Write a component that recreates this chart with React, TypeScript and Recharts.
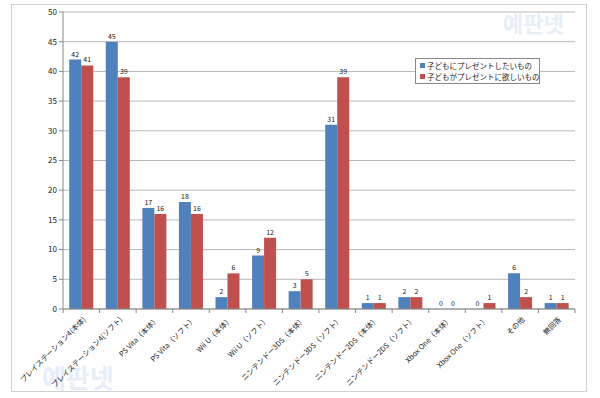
import React from 'react'
import { Bar, BarChart, CartesianGrid, LabelList, XAxis, YAxis } from 'recharts'

const categories = [
  'プレイステーション4(本体)',
  'プレイステーション4(ソフト)',
  'PS Vita（本体）',
  'PS Vita（ソフト）',
  'Wii U（本体）',
  'Wii U（ソフト）',
  'ニンテンドー3DS（本体）',
  'ニンテンドー3DS（ソフト）',
  'ニンテンドー2DS（本体）',
  'ニンテンドー2DS（ソフト）',
  'Xbox One（本体）',
  'Xbox One（ソフト）',
  'その他',
  '無回答',
]
const wantToGive = [42, 45, 17, 18, 2, 9, 3, 31, 1, 2, 0, 0, 6, 1]
const wantToGet = [41, 39, 16, 16, 6, 12, 5, 39, 1, 2, 0, 1, 2, 1]
const yTicks = [0, 5, 10, 15, 20, 25, 30, 35, 40, 45, 50]
const seriesNames = ['子どもにプレゼントしたいもの', '子どもがプレゼントに欲しいもの']

const data = categories.map((name, i) => ({ name, give: wantToGive[i], get: wantToGet[i] }))

const font = '"Noto Sans CJK JP", "Noto Sans", sans-serif'

const XTick = (props: any) => {
  const { x, y, payload, index } = props
  const half = payload.offset || 18.3
  return (
    <g>
      <line x1={x - half} x2={x - half} y1={y - 8} y2={y - 4} stroke='#888' />
      {index === categories.length - 1 && <line x1={x + half} x2={x + half} y1={y - 8} y2={y - 4} stroke='#888' />}
      <text x={x + 5} y={y + 3} transform={`rotate(-45, ${x + 5}, ${y + 3})`} textAnchor='end' fontSize={7.3} fill='#222' fontFamily={font}>
        {payload.value}
      </text>
    </g>
  )
}

const ValueLabel = (props: any) => {
  const { x, y, width, value } = props
  return (
    <text x={Number(x) + Number(width) / 2} y={Number(y) - 3} textAnchor='middle' fontSize={7} fill='#222' fontFamily={font}>
      {value}
    </text>
  )
}

const App = () => {
  return (
    <div style={{ position: 'absolute', left: 0, top: 0, width: 600, height: 398, background: '#fff', fontFamily: font }}>
      <div style={{ position: 'absolute', left: 11, top: 4, width: 574, height: 386, border: '1px solid #d0d0d0' }} />
      <div style={{ position: 'absolute', left: 503, top: 6, fontSize: 22, fontWeight: 700, color: '#e6eef7', fontFamily: '"Noto Sans CJK KR"' }}>예판넷</div>
      <div style={{ position: 'absolute', left: 42, top: 358, fontSize: 26, fontWeight: 700, color: '#e6eef7', fontFamily: '"Noto Sans CJK KR"' }}>예판넷</div>
      <BarChart
        width={600}
        height={398}
        data={data}
        margin={{ top: 12, right: 25, bottom: 9, left: 33 }}
        barCategoryGap='17%'
        barGap={0}
        style={{ position: 'absolute', left: 0, top: 0 }}
      >
        <CartesianGrid vertical={false} stroke='#b8b8b8' />
        <XAxis dataKey='name' interval={0} height={80} tick={<XTick />} tickLine={false} axisLine={{ stroke: '#888' }} />
        <YAxis
          width={30}
          domain={[0, 50]}
          ticks={yTicks}
          interval={0}
          tick={{ fontSize: 8, fill: '#222', fontFamily: font }}
          tickSize={4}
          tickLine={{ stroke: '#888' }}
          axisLine={{ stroke: '#888' }}
        />
        <Bar dataKey='give' fill='#4F81BD' minPointSize={0.01} isAnimationActive={false}>
          <LabelList dataKey='give' content={<ValueLabel />} />
        </Bar>
        <Bar dataKey='get' fill='#C0504D' minPointSize={0.01} isAnimationActive={false}>
          <LabelList dataKey='get' content={<ValueLabel />} />
        </Bar>
      </BarChart>
      <div
        style={{
          position: 'absolute',
          left: 415,
          top: 58,
          width: 125,
          height: 26,
          border: '1px solid #888',
          background: '#fff',
          fontSize: 7.5,
          lineHeight: '11px',
          padding: '1px 0 0 4px',
          boxSizing: 'border-box',
          color: '#222',
        }}
      >
        {seriesNames.map((n, i) => (
          <div key={n} style={{ display: 'flex', alignItems: 'center', whiteSpace: 'nowrap', height: 11 }}>
            <span style={{ display: 'inline-block', width: 5, height: 5, background: i === 0 ? '#4F81BD' : '#C0504D', marginRight: 2, flexShrink: 0 }} />
            {n}
          </div>
        ))}
      </div>
    </div>
  )
}

export default App
